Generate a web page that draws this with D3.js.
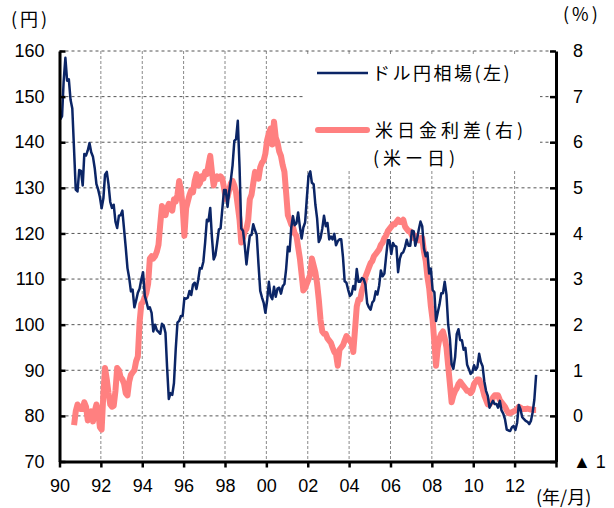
<!DOCTYPE html>
<html>
<head>
<meta charset="utf-8">
<script src="https://cdn.jsdelivr.net/npm/d3@7"></script>
<style>
  body { margin: 0; background: #fff; }
  svg { display: block; }
</style>
</head>
<body>
<div id="chart"></div>
<script>
// monthly USD/JPY, Jan 1990 - Jan 2013
var usdjpy = [
  145.0,145.7,153.3,158.5,153.5,153.8,149.3,147.4,138.4,129.6,129.2,133.9,
  133.7,130.5,137.4,137.1,138.2,139.8,137.8,136.8,134.3,130.8,129.6,128.0,
  125.5,127.7,132.9,133.5,130.8,126.9,125.6,126.3,122.6,121.2,123.9,124.0,
  125.0,120.8,117.0,112.4,110.3,107.3,107.7,103.8,105.3,107.0,107.9,109.9,
  111.5,106.3,105.1,103.5,103.8,102.6,98.5,100.0,98.8,98.4,98.0,100.2,
  99.8,98.2,90.8,83.7,85.0,84.6,87.2,94.6,100.5,100.8,101.9,101.9,
  105.8,105.7,105.9,107.4,106.5,108.8,109.2,107.8,109.8,112.4,112.3,113.8,
  118.0,123.0,122.7,125.6,119.2,114.3,115.2,117.9,120.9,121.1,125.4,129.5,
  129.5,125.8,129.1,131.8,135.0,140.3,140.7,144.7,134.5,121.1,120.6,117.4,
  113.2,116.7,119.5,119.7,122.0,120.7,119.7,113.3,107.4,106.0,104.8,102.6,
  105.3,109.4,106.3,105.6,108.3,106.1,107.9,108.1,106.8,108.4,108.9,112.2,
  117.1,116.1,121.2,123.8,121.8,122.2,124.6,121.5,118.9,121.3,122.4,127.6,
  132.7,133.6,131.1,130.8,126.4,123.3,118.1,119.0,121.1,123.9,121.6,122.3,
  118.7,119.3,118.7,119.9,117.4,118.3,118.7,118.7,114.8,109.5,109.2,107.7,
  106.3,106.7,108.5,107.7,112.2,109.4,109.4,110.2,110.0,108.8,104.7,103.8,
  103.3,104.9,105.3,107.3,106.6,108.6,111.9,110.6,111.2,114.9,118.5,118.5,
  115.5,117.9,117.3,117.1,111.5,114.5,115.6,115.9,117.0,118.6,117.3,117.3,
  120.6,120.5,117.3,118.8,120.8,122.6,121.6,116.7,115.0,115.8,111.2,112.3,
  107.6,107.1,100.8,102.7,104.4,106.9,106.9,109.4,106.6,100.1,96.9,91.3,
  90.3,92.9,97.9,99.0,96.6,96.6,94.5,94.9,91.2,90.3,89.2,89.6,
  91.1,90.1,90.7,93.6,91.8,90.9,87.6,85.5,84.4,81.8,82.6,83.3,
  82.6,82.6,81.8,83.3,81.2,80.5,79.3,77.0,76.8,76.7,77.5,77.8,
  76.9,78.5,82.4,81.4,79.7,79.3,78.9,78.7,78.2,78.9,80.8,83.6,
  89.0
];
var usdjpyStart = [1990, 0];

// monthly US-Japan rate gap (%), Sep 1990 - Jan 2013
var rateGap = [
  -0.2,0.1,0.25,0.2,
  0.15,0.15,0.3,0.2,-0.1,0.05,0.1,-0.12,0.1,0.25,0.1,-0.25,
  -0.3,0.5,1.05,0.8,0.5,0.25,0.2,0.22,0.55,1.05,1.0,0.85,
  0.8,0.7,0.5,0.45,0.75,0.9,0.95,1.0,1.2,1.3,2.05,2.45,
  2.5,2.6,2.7,2.9,3.45,3.5,3.45,3.5,3.6,3.75,4.2,4.6,
  4.45,4.4,4.55,4.65,4.55,4.5,4.75,4.7,4.85,5.15,4.95,4.6,
  3.95,4.55,4.7,4.85,4.95,4.9,5.15,5.3,5.05,5.1,5.25,5.2,
  5.35,5.3,5.5,5.7,5.35,5.05,5.2,5.25,5.2,5.25,5.2,5.0,
  4.75,4.8,4.95,5.1,5.15,5.05,4.9,4.6,4.3,3.8,3.9,4.05,
  4.1,4.3,4.75,4.85,5.1,5.35,5.3,5.2,5.45,5.55,5.6,5.75,
  6.05,6.2,6.3,5.95,6.45,6.1,6.0,5.8,5.7,5.5,5.35,4.9,
  4.4,4.3,4.2,4.15,4.0,3.95,3.7,3.45,3.1,2.75,2.8,2.9,
  3.0,3.1,3.45,3.3,3.15,2.9,2.55,2.1,1.85,1.8,1.8,1.7,
  1.65,1.6,1.5,1.4,1.35,1.1,1.45,1.5,1.55,1.65,1.75,1.7,
  1.65,1.6,1.4,1.9,2.4,2.55,2.55,2.75,2.85,3.05,3.15,3.25,
  3.35,3.4,3.5,3.55,3.6,3.65,3.75,3.8,3.9,3.95,4.05,4.1,
  4.15,4.2,4.2,4.25,4.3,4.25,4.25,4.3,4.15,4.1,4.05,4.05,
  3.95,3.9,3.95,3.9,3.85,3.9,3.9,3.6,3.4,3.05,2.8,2.4,
  2.1,1.6,1.1,1.5,1.7,1.8,1.85,1.7,1.5,1.1,0.7,0.3,
  0.45,0.55,0.6,0.7,0.75,0.7,0.65,0.6,0.55,0.55,0.5,0.55,
  0.7,0.75,0.8,0.8,0.7,0.6,0.45,0.35,0.25,0.25,0.3,0.4,
  0.45,0.45,0.45,0.35,0.3,0.25,0.2,0.12,0.06,0.06,0.08,0.1,
  0.12,0.15,0.2,0.18,0.15,0.15,0.15,0.16,0.15,0.14,0.13,0.13,
  0.13
];
var rateGapStart = [1990, 8];

var yearTicks = [1990,1992,1994,1996,1998,2000,2002,2004,2006,2008,2010,2012,2014];
var yearLabels = ["90","92","94","96","98","00","02","04","06","08","10","12",""];
var leftTicks = [70,80,90,100,110,120,130,140,150,160];
var rightTicks = [-1,0,1,2,3,4,5,6,7,8];
var rightLabels = ["▲ 1","0","1","2","3","4","5","6","7","8"];

var W = 614, H = 508;
var x0 = 59.5, x1 = 556, yTop = 51, yBot = 461.5;
var numFont = "'Liberation Sans', Arial, sans-serif";
var jpFont = "'Noto Sans CJK JP', sans-serif";

var svg = d3.select("#chart").append("svg")
    .attr("width", W).attr("height", H);

var x = d3.scaleTime()
    .domain([new Date(1990, 0, 1), new Date(2014, 0, 1)])
    .range([x0, x1]);
var yL = d3.scaleLinear().domain([70, 160]).range([yBot, yTop]);
var yR = d3.scaleLinear().domain([-1, 8]).range([yBot, yTop]);

function toSeries(arr, start) {
    return arr.map(function (v, i) {
        return { date: new Date(start[0], start[1] + i, 15), value: v };
    });
}
var fxData = toSeries(usdjpy, usdjpyStart);
var gapData = toSeries(rateGap, rateGapStart);

// grid
svg.append("g").selectAll("line")
    .data(yearTicks.slice(1, -1))
    .enter().append("line")
    .attr("x1", function (d) { return x(new Date(d, 0, 1)); })
    .attr("x2", function (d) { return x(new Date(d, 0, 1)); })
    .attr("y1", yTop).attr("y2", yBot)
    .attr("stroke", "#888").attr("stroke-width", 1)
    .attr("stroke-dasharray", "3,2");

svg.append("g").selectAll("line")
    .data(leftTicks.slice(1))
    .enter().append("line")
    .attr("x1", x0).attr("x2", x1)
    .attr("y1", function (d) { return yL(d); })
    .attr("y2", function (d) { return yL(d); })
    .attr("stroke", "#555").attr("stroke-width", 1)
    .attr("stroke-dasharray", "3,3");

// legend background
svg.append("rect")
    .attr("x", 303).attr("y", 56).attr("width", 237).attr("height", 114)
    .attr("fill", "#fff");

// lines
svg.append("path")
    .datum(gapData)
    .attr("fill", "none")
    .attr("stroke", "#ff8080")
    .attr("stroke-width", 6)
    .attr("stroke-linejoin", "round")
    .attr("d", d3.line()
        .x(function (d) { return x(d.date); })
        .y(function (d) { return yR(d.value); }));

svg.append("path")
    .datum(fxData)
    .attr("fill", "none")
    .attr("stroke", "#0b2566")
    .attr("stroke-width", 2.5)
    .attr("stroke-linejoin", "round")
    .attr("d", d3.line()
        .x(function (d) { return x(d.date); })
        .y(function (d) { return yL(d.value); }));

// axes
var gL = svg.append("g")
    .attr("transform", "translate(" + x0 + ",0)")
    .call(d3.axisLeft(yL).tickValues(leftTicks)
        .tickSizeInner(-6).tickSizeOuter(0).tickPadding(15));

var gR = svg.append("g")
    .attr("transform", "translate(" + x1 + ",0)")
    .call(d3.axisRight(yR).tickValues(rightTicks)
        .tickSizeInner(-6).tickSizeOuter(0).tickPadding(17)
        .tickFormat(function (d, i) { return rightLabels[i]; }));

var gB = svg.append("g")
    .attr("transform", "translate(0," + yBot + ")")
    .call(d3.axisBottom(x)
        .tickValues(yearTicks.map(function (d) { return new Date(d, 0, 1); }))
        .tickSizeInner(6).tickSizeOuter(0).tickPadding(12)
        .tickFormat(function (d, i) { return yearLabels[i]; }));

[gL, gR, gB].forEach(function (g) {
    g.select(".domain").attr("stroke", "#000").attr("stroke-width", 3);
    g.selectAll(".tick line").attr("stroke", "#000").attr("stroke-width", 2.5);
    g.selectAll("text")
        .attr("fill", "#000")
        .style("font-family", numFont)
        .style("font-size", "18px");
});
gR.selectAll("text").attr("text-anchor", "start");

// unit labels
svg.append("text").attr("x", 11).attr("y", 26).text("(円)")
    .style("font-family", jpFont).style("font-size", "18px")
    .style("letter-spacing", "3px");
svg.append("text").attr("x", 563).attr("y", 21).text("(%)")
    .style("font-family", jpFont).style("font-size", "18px")
    .style("letter-spacing", "3px");
svg.append("text").attr("x", 536).attr("y", 504).text("(年/月)")
    .style("font-family", jpFont).style("font-size", "18px");

// legend
svg.append("line")
    .attr("x1", 317).attr("x2", 368).attr("y1", 73).attr("y2", 73)
    .attr("stroke", "#0b2566").attr("stroke-width", 2.5);
svg.append("text").attr("x", 372).attr("y", 80).text("ドル円相場(左)")
    .style("font-family", jpFont).style("font-size", "18px")
    .style("letter-spacing", "2.5px");

svg.append("line")
    .attr("x1", 318).attr("x2", 367).attr("y1", 130).attr("y2", 130)
    .attr("stroke", "#ff8080").attr("stroke-width", 6)
    .attr("stroke-linecap", "round");
svg.append("text").attr("x", 375).attr("y", 137).text("米日金利差(右)")
    .style("font-family", jpFont).style("font-size", "18px")
    .style("letter-spacing", "4px");
svg.append("text").attr("x", 373).attr("y", 165).text("(米ー日)")
    .style("font-family", jpFont).style("font-size", "18px")
    .style("letter-spacing", "4px");
</script>
</body>
</html>
